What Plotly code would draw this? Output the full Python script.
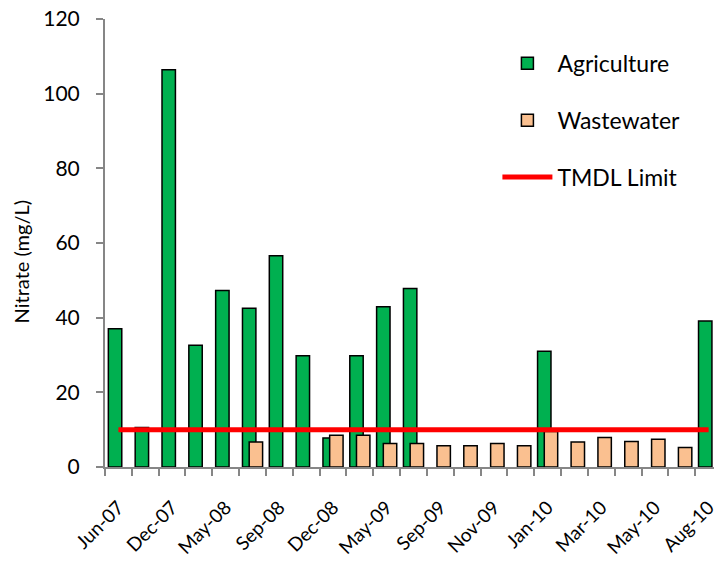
import plotly.graph_objects as go

# 23 sampling events (only every other one labelled on the axis)
tick_labels = ["Jun-07", "Dec-07", "May-08", "Sep-08", "Dec-08", "May-09",
               "Sep-09", "Nov-09", "Jan-10", "Mar-10", "May-10", "Aug-10"]
n_events = 23
positions = list(range(n_events))

agriculture = [37.0, 10.6, 106.4, 32.6, 47.3, 42.5, 56.6, 29.8, 7.8, 29.8, 42.9, 47.8,
               None, None, None, None, 31.0, None, None, None, None, None, 39.1]
wastewater = [None, None, None, None, None, 6.7, None, None, 8.5, 8.5, 6.3, 6.3,
              5.7, 5.7, 6.3, 5.7, 9.5, 6.7, 7.9, 6.8, 7.4, 5.2, None]
tmdl_limit = [10] * n_events

FONT = "Lato"
AXIS_COLOR = "#868686"

fig = go.Figure()
fig.add_trace(go.Bar(
    x=positions, y=agriculture, name="Agriculture",
    width=0.5, offset=-0.375,
    marker=dict(color="#00B050", line=dict(color="black", width=1.5)),
    legendgroup="a",
))
fig.add_trace(go.Bar(
    x=positions, y=wastewater, name="Wastewater",
    width=0.5, offset=-0.125,
    marker=dict(color="#FAC090", line=dict(color="black", width=1.5)),
    legendgroup="b",
))
fig.add_trace(go.Scatter(
    x=positions, y=tmdl_limit, name="TMDL Limit", mode="lines",
    line=dict(color="#FF0000", width=5),
    legendgroup="c",
))

fig.update_layout(
    width=714, height=554,
    barmode="overlay",
    plot_bgcolor="white", paper_bgcolor="white",
    margin=dict(l=97, r=0, t=11, b=95),
    font=dict(family=FONT, color="black"),
    showlegend=True,
    legend=dict(
        x=0.636, y=0.949, xanchor="left", yanchor="top",
        font=dict(size=23, family=FONT),
        tracegroupgap=24, bgcolor="rgba(0,0,0,0)",
        itemwidth=50,
    ),
    xaxis=dict(
        range=[-0.5, n_events - 0.5],
        automargin=False,
        tickmode="array",
        tickvals=positions[::2], ticktext=tick_labels,
        tickangle=-45, ticks="", ticklen=0,
        ticklabelstandoff=20, ticklabeloverflow="allow",
        tickfont=dict(size=19, family=FONT),
        showline=True, linecolor=AXIS_COLOR, linewidth=2,
        showgrid=False, zeroline=False,
        minor=dict(tickvals=[p - 0.5 for p in positions] + [n_events - 0.5],
                   ticks="outside", ticklen=7, tickcolor=AXIS_COLOR, tickwidth=2,
                   showgrid=False),
    ),
    yaxis=dict(
        range=[0, 120], dtick=20,
        automargin=False,
        ticks="outside", ticklen=7, tickcolor=AXIS_COLOR, tickwidth=2,
        tickfont=dict(size=21, family=FONT),
        ticklabelstandoff=12, ticklabeloverflow="allow",
        showline=True, linecolor=AXIS_COLOR, linewidth=2,
        showgrid=False, zeroline=False,
    ),
    annotations=[dict(
        text="Nitrate (mg/L)", textangle=-90, showarrow=False,
        xref="paper", yref="paper", x=-0.137, y=0.46,
        xanchor="center", yanchor="middle",
        font=dict(size=20, family=FONT),
    )],
)

fig.write_html("out.html")
